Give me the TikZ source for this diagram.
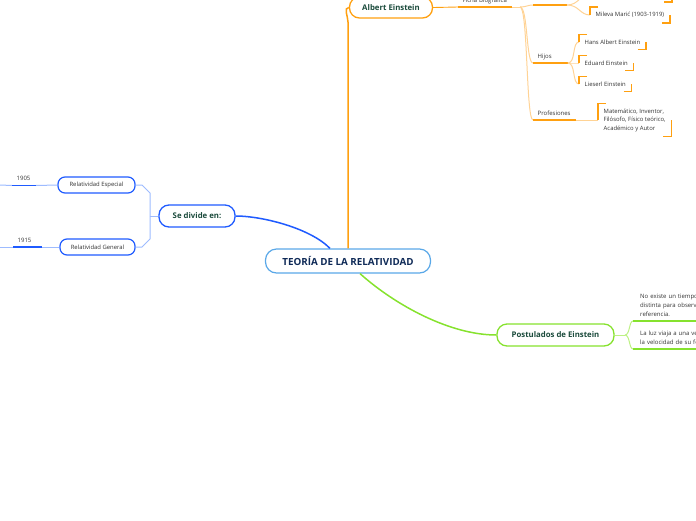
\documentclass[tikz,border=0pt]{standalone}
\usepackage{fontspec}
\setmainfont{Open Sans}
\usetikzlibrary{positioning,calc}

\definecolor{bluebr}{HTML}{1F5BFF}
\definecolor{bluelt}{HTML}{9DBBFF}
\definecolor{rootbd}{HTML}{5AA8E8}
\definecolor{navy}{HTML}{0F2A57}
\definecolor{orangebr}{HTML}{FFA010}
\definecolor{orangelt}{HTML}{FFD395}
\definecolor{greenbr}{HTML}{86E22E}
\definecolor{greenlt}{HTML}{BDF184}
\definecolor{txtgreen}{HTML}{1B4B3C}
\definecolor{txtgray}{HTML}{333333}

% corner marks round a leaf
\newcommand\cornermarks[1]{%
  \draw[brk] ([xshift=8pt]#1.north west) -- (#1.north west) -- (#1.west);
  \draw[brk] ([xshift=-8pt]#1.south east) -- (#1.south east) -- (#1.east);}

\begin{document}
\begin{tikzpicture}[x=1pt,y=-1pt,
  root/.style={draw=rootbd, line width=1.2pt, rounded corners=11pt, fill=white,
    font=\bfseries\fontsize{9.8}{11}\selectfont, text=navy,
    minimum width=165pt, minimum height=24pt},
  topic/.style={line width=1.3pt, rounded corners=10pt, fill=white,
    font=\bfseries\fontsize{7.8}{9}\selectfont, text=txtgreen},
  sub/.style={draw=bluebr, line width=1.2pt, rounded corners=7pt, fill=white,
    font=\fontsize{5.9}{7}\selectfont, text=txtgray, minimum height=16pt},
  ulbl/.style={font=\fontsize{6}{9}\selectfont, text=txtgray, anchor=south west,
    inner xsep=4.5pt, inner ysep=3.5pt, text depth=1pt, align=left},
  note/.style={font=\fontsize{6}{9}\selectfont, text=txtgray, anchor=south west,
    inner xsep=7pt, inner ysep=4pt, align=left},
  leaf/.style={font=\fontsize{5.9}{8.5}\selectfont, text=txtgray, anchor=west,
    inner xsep=5.5pt, inner ysep=5pt, align=left},
  brk/.style={draw=orangebr, line width=1.6pt},
  thin/.style={line width=1pt}]
\useasboundingbox (0,0) rectangle (696,520);
\clip (0,0) rectangle (696,520);

% main nodes
\node[root] (root) at (348,261) {TEORÍA DE LA RELATIVIDAD};
\node[topic, draw=bluebr, minimum width=76pt, minimum height=22pt] (div) at (197,216) {Se divide en:};
\node[topic, draw=orangebr, minimum width=83pt, minimum height=21pt] (ein) at (391,7.5) {Albert Einstein};
\node[topic, draw=greenbr, minimum width=117pt, minimum height=22pt] (post) at (555.5,335) {Postulados de Einstein};

% blue branch
\node[sub, minimum width=77pt] (esp) at (96.5,185) {Relatividad Especial};
\node[sub, minimum width=75pt] (gen) at (97.5,247) {Relatividad General};
\node[ulbl, text width=14.5pt] (y05) at (12,185.5) {1905};
\node[ulbl, text width=19.5pt] (y15) at (13,247) {1915};
\coordinate (dj) at (150,216);
\coordinate (e05) at (0,185);
\coordinate (e15) at (0,247);

\draw[bluebr, line width=1.5pt] ([xshift=-18pt]root.north) .. controls (310,228) and (262,216) .. (div.east);
\draw[bluelt, thin] (div.west) -- (dj);
\draw[bluelt, thin] (dj) -- (150,193) -- (142,185) -- (esp.east);
\draw[bluelt, thin] (dj) -- (150,239) -- (142,247) -- (gen.east);
\draw[bluelt, thin] (esp.west) -- (y05.south east);
\draw[bluelt, thin] (y05.south west) -- (e05);
\draw[bluebr, line width=1.6pt] (y05.south west) -- (y05.south east);
\draw[bluelt, thin] (gen.west) -- (y15.south east);
\draw[bluelt, thin] (y15.south west) -- (e15);
\draw[bluebr, line width=1.6pt] (y15.south west) -- (y15.south east);

% orange branch
\node[ulbl, text width=45pt] (ficha) at (458,7) {Ficha Biográfica};
\node[ulbl, text width=25.5pt] (hijos) at (533,63) {Hijos};
\node[ulbl, text width=34pt] (prof) at (533,120) {Profesiones};
\node[leaf] (mil) at (590,15) {Mileva Marić (1903-1919)};
\node[leaf] (hans) at (579,42) {Hans Albert Einstein};
\node[leaf] (edu) at (579,63) {Eduard Einstein};
\node[leaf] (lie) at (579,84) {Lieserl Einstein};
\node[leaf] (profl) at (598,120) {Matemático, Inventor,\\Filósofo, Físico teórico,\\Académico y Autor};
\coordinate (fb) at (520,7);
\coordinate (wv1) at (533,5);
\coordinate (wv2) at (567,5);
\coordinate (w1) at (590,-6);
\coordinate (w1se) at (672,2);

\draw[orangebr, line width=1.5pt] (root.north) -- (348,22) to[out=90,in=180] (ein.west);
\draw[orangebr, line width=0.9pt] (ein.east) -- (ficha.south west);
\draw[orangebr, line width=1.6pt] (ficha.south west) -- (ficha.south east);
\draw[orangelt, thin] (ficha.south east) -- (fb);
\draw[orangelt, thin] (fb) .. controls +(7,0) and +(-6,0) .. (wv1);
\draw[orangebr, line width=1.6pt] (wv1) -- (wv2);
\draw[orangelt, thin] (wv2) .. controls +(12,0) and +(-10,0) .. (w1);
\draw[orangelt, thin] (wv2) .. controls +(12,0) and +(-10,0) .. (mil.west);
\draw[brk] ([xshift=-8pt]w1se) -- (w1se) -- ++(0,-8);
\cornermarks{mil}
\draw[orangelt, thin] (fb) .. controls +(8,0) and +(-7,0) .. (hijos.south west);
\draw[orangebr, line width=1.6pt] (hijos.south west) -- (hijos.south east);
\foreach \k in {hans,edu,lie}{
  \draw[orangelt, thin] (hijos.south east) .. controls +(8,0) and +(-7,0) .. (\k.west);
  \cornermarks{\k}
}
\draw[orangelt, thin] (fb) .. controls +(8,0) and +(-7,0) .. (prof.south west);
\draw[orangebr, line width=1.6pt] (prof.south west) -- (prof.south east);
\draw[orangelt, thin] (prof.south east) -- (profl.west);
\cornermarks{profl}

% green branch
\node[note, text width=120pt] (pos1) at (633,321) {No existe un tiempo\\distinta para observ\\referencia.};
\node[note, text width=120pt] (pos2) at (633,349) {La luz viaja a una vel\\la velocidad de su fo};
\coordinate (pj) at (625,335);

\draw[greenbr, line width=1.5pt] ([xshift=12pt]root.south) .. controls (395,305) and (450,335) .. (post.west);
\draw[greenlt, thin] (post.east) -- (pj);
\draw[greenlt, thin] (pj) .. controls +(5,0) and +(-4,0) .. (pos1.south west);
\draw[greenlt, thin] (pj) .. controls +(5,0) and +(-4,0) .. (pos2.south west);
\draw[greenbr, line width=1.8pt] (pos1.south west) -- (pos1.south east);
\draw[greenbr, line width=1.8pt] (pos2.south west) -- (pos2.south east);
\end{tikzpicture}
\end{document}
